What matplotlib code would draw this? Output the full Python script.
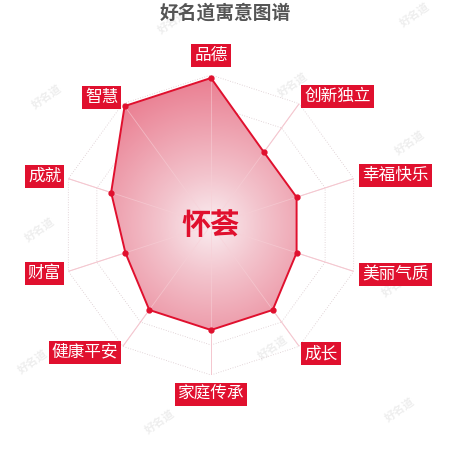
import numpy as np
import matplotlib.pyplot as plt
from matplotlib.patches import Polygon
from matplotlib.colors import LinearSegmentedColormap

plt.rcParams['font.family'] = ['Noto Sans CJK SC', 'DejaVu Sans']

# data
title = "好名道寓意图谱"
name = "怀荟"
categories = ["品德", "创新独立", "幸福快乐", "美丽气质", "成长",
              "家庭传承", "健康平安", "财富", "成就", "智慧"]
values = [98, 60, 60, 60, 70, 70, 70, 60, 70, 98]

red = "#e0102e"
n = len(categories)
theta = np.linspace(0, 2 * np.pi, n, endpoint=False)

fig = plt.figure(figsize=(4.5, 4.5), dpi=100)
fig.patch.set_facecolor("white")

# background axes for watermarks
bg = fig.add_axes([0, 0, 1, 1])
bg.set_xlim(0, 450)
bg.set_ylim(450, 0)
bg.axis("off")
wm_x = [173, 415, 47, 293, 410, 40, 397, 273, 33, 160, 400]
wm_y = [22, 15, 97, 85, 143, 230, 285, 348, 362, 422, 410]
for x, y in zip(wm_x, wm_y):
    bg.text(x, y, "好名道", fontsize=8, color="#eeeeee", rotation=35,
            ha="center", va="center", fontweight="bold")

pos = [61 / 450, 75 / 450, 300 / 450, 300 / 450]
ax = fig.add_axes(pos, projection="polar")
ax.set_theta_zero_location("N")
ax.set_theta_direction(-1)
ax.set_ylim(0, 100)
ax.axis("off")

# grid rings and spokes
tt = np.append(theta, theta[0])
for r in [20, 40, 60, 80, 100]:
    ax.plot(tt, [r] * (n + 1), color="#d9c8cc", lw=0.6, ls=(0, (1, 2)), zorder=1)
for t in theta:
    ax.plot([t, t], [0, 100], color="#f2bcc7", lw=0.7, zorder=1)

# polygon
vv = values + values[:1]
poly = Polygon(np.column_stack([tt, vv]), closed=True, transform=ax.transData,
               facecolor="none", edgecolor="none")
ax.add_patch(poly)

# radial gradient fill clipped to polygon
gax = fig.add_axes(pos)
gax.set_xlim(-1, 1)
gax.set_ylim(-1, 1)
gax.axis("off")
gx, gy = np.meshgrid(np.linspace(-1, 1, 400), np.linspace(-1, 1, 400))
rr = np.sqrt(gx ** 2 + gy ** 2)
cmap = LinearSegmentedColormap.from_list(
    "rg", ["#faeef1", "#f3c4cd", "#eea0ae", "#ea7d90"])
im = gax.imshow(rr, extent=(-1, 1, -1, 1), cmap=cmap, vmin=0, vmax=1,
                origin="lower", zorder=0)
im.set_clip_path(poly)

ax2 = fig.add_axes(pos, projection="polar")
ax2.set_theta_zero_location("N")
ax2.set_theta_direction(-1)
ax2.set_ylim(0, 100)
ax2.axis("off")
ax2.patch.set_alpha(0)
for t in theta:
    ax2.plot([t, t], [0, 100], color="#f7d0d7", lw=0.6, alpha=0.6, zorder=1)
ax2.plot(tt, vv, color=red, lw=1.4, zorder=3)
ax2.plot(theta, values, "o", color=red, ms=3.5, zorder=4)

# labels
for t, lab in zip(theta, categories):
    s = np.sin(t)
    if abs(s) < 0.01:
        ha = "center"
        r = 113
    elif s > 0:
        ha = "left"
        r = 106
    else:
        ha = "right"
        r = 105
    ax2.text(t, r, lab, ha=ha, va="center", color="white", fontsize=12,
             bbox=dict(boxstyle="square,pad=0.18", fc=red, ec="none"),
             zorder=5)

ax2.text(0, 0, name, ha="center", va="center", color=red, fontsize=21,
         fontweight="bold", zorder=5)

fig.text(0.5, 1 - 13 / 450, title, ha="center", va="center",
         fontsize=13.5, fontweight="bold", color="#555555")

fig.savefig("out.png", dpi=100, facecolor="white")
